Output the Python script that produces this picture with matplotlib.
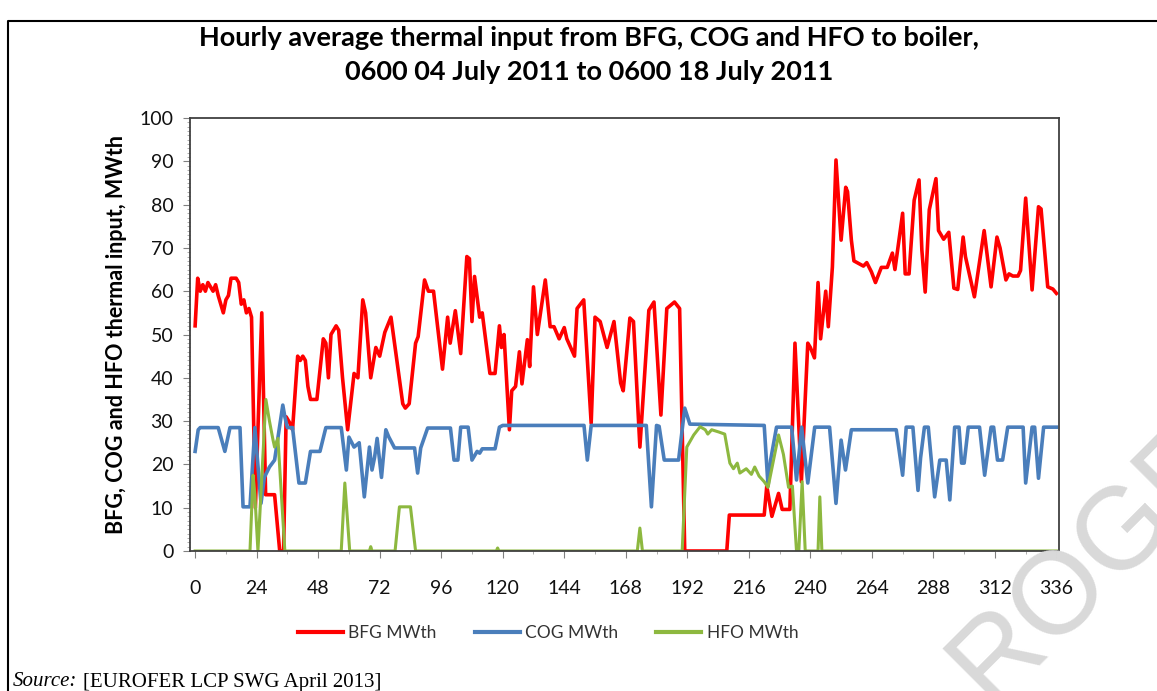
import matplotlib
matplotlib.use("Agg")
import matplotlib.pyplot as plt
from matplotlib.lines import Line2D
from matplotlib.ticker import MultipleLocator

plt.rcParams['font.family'] = ['Lato', 'DejaVu Sans']

# hourly series as (hour, value) break points
bfg_hours = [0, 1, 2, 3, 4, 5, 6, 7, 8, 9, 10, 11, 12, 13, 14, 16, 17, 18, 19, 20, 21, 22,
             23.5, 26, 27.5, 31, 33, 34.5, 35.5, 37, 38, 40, 41, 42, 43, 44, 45, 47.5, 50, 51,
             52, 53, 55, 56, 57.5, 59.5, 62, 63.5, 65.4, 66.5, 68.5, 70.5, 72, 74, 76.4, 78, 81,
             82, 83.5, 86, 87, 89.5, 91, 93, 96.5, 98.5, 99.5, 101.5, 103.6, 106, 107, 108, 109,
             111, 112, 115, 117, 118.7, 119.5, 120.5, 122.6, 123.5, 125, 126.5, 127.5, 129.6,
             130.5, 132, 133.5, 136.6, 138.5, 140, 142, 144, 145, 148, 149, 151.6, 154.5, 156,
             158, 160.7, 163.4, 166, 167, 169.6, 171, 173.5, 177, 179, 181.7, 184, 187, 189, 191,
             207.4, 208.4, 222, 223, 225, 227.6, 229, 232, 234, 236.5, 239, 240, 241.6, 243, 244,
             246, 247, 248.6, 250, 252, 253.8, 254.5, 256, 257, 260.7, 262, 263.8, 265.4, 267.7,
             270, 272, 273, 276, 277, 278.5, 280.5, 282.4, 283.5, 284.8, 286.4, 289, 290, 292,
             294, 296, 297.5, 299.6, 300.5, 304, 307.8, 310.5, 312.8, 314, 316.3, 317.5, 319, 321,
             322, 324, 326.5, 329, 330, 332.6, 334.6, 336]
bfg_vals = [52, 63, 60, 61.5, 60, 62, 61, 60, 61.5, 59, 57, 55, 58, 59, 63, 63, 62, 57, 58, 55, 56, 54,
            10, 55, 13, 13, 0, 0, 31, 29.5, 28, 45, 44, 45, 44, 38, 35, 35, 49, 48,
            40, 50, 52, 51, 40, 28, 41, 40, 58, 55, 40, 47, 45, 50.5, 54, 47, 34,
            33, 34, 48, 49.5, 62.6, 60, 60, 42, 54, 48, 55.5, 45.6, 68, 67.5, 53, 63.4,
            54, 55, 41, 41, 52, 47, 50, 28, 37, 38, 46, 38.6, 48.8,
            42.6, 61, 50, 62.6, 51.8, 51.8, 49, 51.6, 49, 45, 56, 58, 29.5, 54,
            53, 47, 53, 38.8, 37, 53.8, 53, 24, 55.6, 57.5, 31.4, 56, 57.5, 56, 0,
            0, 8.3, 8.3, 15, 8, 13.3, 9.6, 9.6, 48, 16, 48, 47, 44.6, 62, 49,
            60, 51.8, 65.6, 90.3, 71.8, 84, 83, 71.8, 67, 65.8, 66.6, 64.5, 62, 65.5,
            65.5, 68.8, 65, 78, 64, 64, 81, 85.7, 69.5, 59.8, 78.8, 86, 74, 72,
            73.6, 60.7, 60.4, 72.5, 68, 58.7, 74, 61, 72.5, 70, 62.6, 64, 63.5, 63.5,
            64.8, 81.5, 60.3, 79.5, 79, 61, 60.5, 59.5]

cog_hours = [0, 1.2, 2, 9, 11.6, 13.6, 17.5, 18.7, 21.4, 23.3, 25.7, 27, 29, 31, 34.2, 35, 36, 38,
             40.5, 43, 45, 48.7, 51, 57, 59, 60, 62, 64, 66, 68, 69, 70, 71, 72.7, 74.4, 75.5,
             77.8, 85.6, 86.8, 88, 90.7, 99.6, 101, 102.5, 103.6, 106.5, 108, 110, 111, 112, 117,
             118.7, 120, 151.7, 153, 154.5, 176, 178, 180, 181, 183, 188.6, 191, 193, 222, 223.5,
             224.5, 226.8, 232.7, 234.6, 236.6, 239, 241.7, 247.5, 250, 252, 253.7, 256, 273.5,
             276, 277.4, 280, 282, 283, 284.5, 286, 288.5, 290.5, 293, 294.4, 296.3, 298, 299,
             300, 301.6, 306, 308, 310.5, 311.5, 313, 315, 317, 323, 324, 326.5, 327.5, 329, 331,
             336]
cog_vals = [23, 28, 28.5, 28.5, 23, 28.5, 28.5, 10.2, 10.2, 28.5, 11, 17, 19.4, 21, 33.7, 31, 28.5, 28.5,
            15.7, 15.7, 23, 23, 28.5, 28.5, 18.7, 26.3, 24, 25, 12.5, 24, 18.7, 21.6, 26, 17, 28, 26.4,
            23.8, 23.8, 18, 23.8, 28.4, 28.4, 21, 21, 28.6, 28.6, 21, 23, 22.6, 23.6, 23.6,
            28.6, 29, 29, 21, 29, 29, 10.2, 29, 28.8, 21, 21, 33, 29.3, 29, 15,
            21, 28.6, 28.6, 16.4, 28.6, 15.7, 28.6, 28.6, 11, 25.6, 18.7, 28, 28,
            17.5, 28.6, 28.6, 14, 21.5, 28.6, 28.6, 12.5, 21, 21, 11.8, 28.6, 28.6, 20.3,
            20.3, 28.6, 28.6, 17.5, 28.6, 28.6, 21, 21, 28.6, 28.6, 15.7, 28.6, 28.6, 16.8, 28.6,
            28.6]

hfo_hours = [0, 21.4, 22.6, 23.3, 24.5, 27.6, 29, 30.4, 31, 32.3, 35, 57, 58.4, 60.3, 68, 68.5, 69,
             78, 79.7, 84, 86, 117.5, 118, 118.5, 172.5, 173.5, 174.5, 190, 191.8, 194.5, 197,
             199, 200, 201.5, 204.2, 206.6, 208.6, 210, 211.5, 212.5, 215, 217, 218.3, 220, 222,
             223.5, 227.6, 229.5, 231.5, 233, 234.6, 235.5, 236.8, 238, 243, 243.7, 244.5, 336]
hfo_vals = [0, 0, 17.5, 13, 0, 35, 30, 25.6, 24, 26, 0, 0, 15.7, 0, 0, 1, 0,
            0, 10.2, 10.2, 0, 0, 0.7, 0, 0, 5.3, 0, 0, 24, 26.8, 28.7,
            28, 27, 28, 27.5, 27, 20.3, 19, 20.3, 18, 19, 17.7, 19.4, 17.3, 16,
            14.7, 26.8, 22.3, 14.7, 15, 0, 0, 16, 0, 0, 12.5, 0, 0]

x_ticks = list(range(0, 337, 24))

W, H = 1157, 691
fig = plt.figure(figsize=(W / 100, H / 100), dpi=100)
ax = fig.add_axes([190 / W, 1 - 551 / H, 869 / W, 433 / H])

ax.plot(bfg_hours, bfg_vals, color='#ff0000', lw=2.6, label='BFG MWth', solid_joinstyle='round')
ax.plot(cog_hours, cog_vals, color='#4a7ebb', lw=2.6, label='COG MWth', solid_joinstyle='round')
ax.plot(hfo_hours, hfo_vals, color='#8db83f', lw=2.2, label='HFO MWth', solid_joinstyle='round')

ax.set_xlim(-2, 337)
ax.set_ylim(0, 100)
ax.set_xticks(x_ticks)
ax.xaxis.set_minor_locator(MultipleLocator(12))
ax.yaxis.set_major_locator(MultipleLocator(10))
ax.yaxis.set_minor_locator(MultipleLocator(1))
ax.tick_params(axis='both', which='major', labelsize=14, length=5, color='#808080', labelcolor='#111111')
ax.tick_params(axis='x', which='major', pad=16)
ax.tick_params(axis='y', which='major', pad=7)
ax.tick_params(axis='both', which='minor', length=2, color='#a0a0a0')
for s in ax.spines.values():
    s.set_color('#404040')
    s.set_linewidth(1.3)

ax.set_ylabel('BFG, COG and HFO thermal input, MWth', fontsize=15.5, fontweight='bold', labelpad=9)

fig.text(0.509, 1 - 38 / H, 'Hourly average thermal input from BFG, COG and HFO to boiler,',
         ha='center', va='center', fontsize=19.5, fontweight='bold')
fig.text(0.509, 1 - 72 / H, '0600 04 July 2011 to 0600 18 July 2011',
         ha='center', va='center', fontsize=19.5, fontweight='bold')

handles = [Line2D([], [], color='#ff0000', lw=3),
           Line2D([], [], color='#4a7ebb', lw=3),
           Line2D([], [], color='#8db83f', lw=3)]
fig.legend(handles, ['BFG MWth', 'COG MWth', 'HFO MWth'], loc='center',
           bbox_to_anchor=(548 / W, 1 - 633 / H), ncol=3, frameon=False, fontsize=12.5,
           handlelength=2.6, handletextpad=0.3, columnspacing=2.2, labelcolor='#333333')

# outer frame (left and top only)
fig.add_artist(Line2D([8 / W, 8 / W, 1], [0, 1 - 21 / H, 1 - 21 / H], color='black', lw=1.5,
                      transform=fig.transFigure))

# source line
src = fig.text(13 / W, 1 - 682 / H, 'Source:', fontsize=15, style='italic',
               family='Liberation Serif', va='center', ha='left')
fig.canvas.draw()
bb = src.get_window_extent()
fig.text(bb.x1 / W + 6 / W, 1 - 682 / H, '[EUROFER LCP SWG April 2013]', fontsize=15,
         family='Liberation Serif', va='center', ha='left')

# watermark, only partly on the page
fig.text(990 / W, 1 - 705 / H, 'ROGRESS', fontsize=84, color='#d9d9d9', rotation=45,
         rotation_mode='anchor', ha='left', va='baseline', family='Liberation Sans', zorder=0)

fig.savefig('out.png', dpi=100)
